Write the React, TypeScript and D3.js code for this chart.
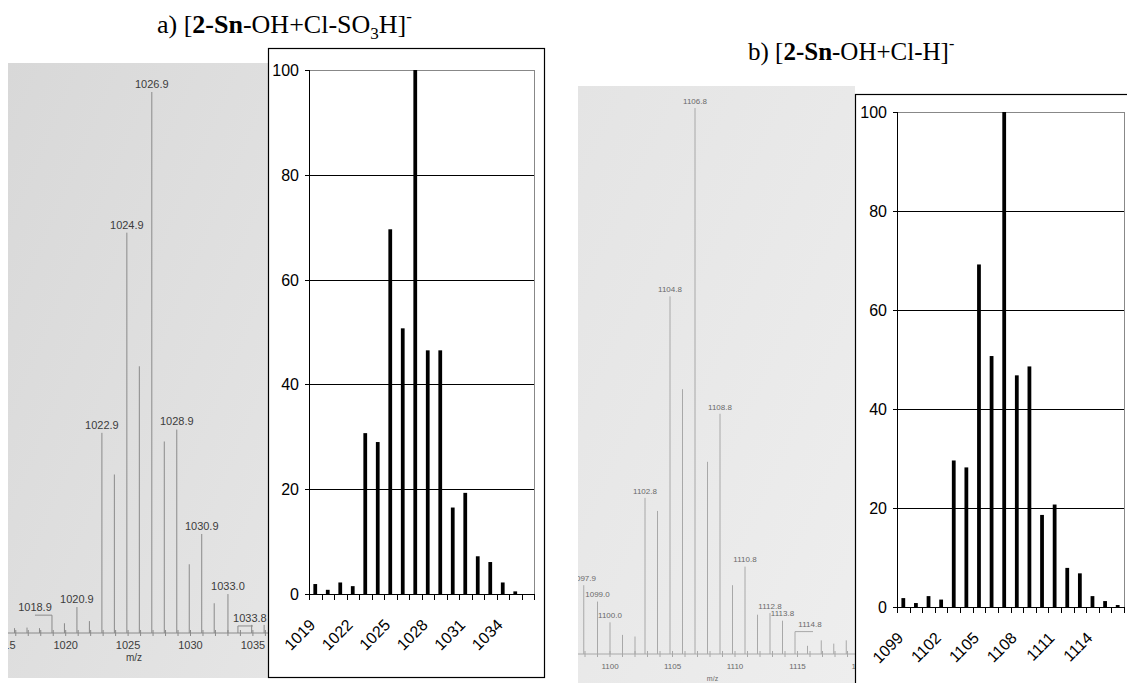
import React from 'react';
import * as d3 from 'd3';

// simulated isotope pattern a) [2-Sn-OH+Cl-SO3H]-
const barMzA = ['1019', '1020', '1021', '1022', '1023', '1024', '1025', '1026', '1027', '1028', '1029', '1030', '1031', '1032', '1033', '1034', '1035', '1036'];
const barValA = [1.9, 0.8, 2.2, 1.5, 30.7, 29, 69.6, 50.7, 100, 46.5, 46.5, 16.5, 19.3, 7.2, 6.1, 2.2, 0.5, 0];
const barTickA = ['1019', '1022', '1025', '1028', '1031', '1034'];

// simulated isotope pattern b) [2-Sn-OH+Cl-H]-
const barMzB = ['1099', '1100', '1101', '1102', '1103', '1104', '1105', '1106', '1107', '1108', '1109', '1110', '1111', '1112', '1113', '1114', '1115', '1116'];
const barValB = [1.8, 0.8, 2.2, 1.5, 29.6, 28.2, 69.2, 50.7, 100, 46.8, 48.6, 18.6, 20.7, 7.9, 6.8, 2.2, 1.2, 0.4];
const barTickB = ['1099', '1102', '1105', '1108', '1111', '1114'];

const yTicks = [0, 20, 40, 60, 80, 100];

// measured spectra (photographs)
const specMzA = [1015.9, 1016.9, 1017.9, 1018.9, 1019.9, 1020.9, 1021.9, 1022.9, 1023.9, 1024.9, 1025.9, 1026.9, 1027.9, 1028.9, 1029.9, 1030.9, 1031.9, 1033.0, 1033.8, 1034.9, 1035.9];
const specIntA = [0.9, 1, 0.9, 3.3, 1.8, 4.8, 2.2, 37, 29.3, 74, 49.3, 100, 35.4, 37.6, 12.7, 18.3, 5.5, 7.2, 1.3, 1.5, 1.5];
const specLabelA = ['1018.9', '1020.9', '1022.9', '1024.9', '1026.9', '1028.9', '1030.9', '1033.0', '1033.8'];
const specAxisA = [1015, 1020, 1025, 1030, 1035];

const specMzB = [1097.9, 1099.0, 1100.0, 1101.0, 1102.0, 1102.8, 1103.8, 1104.8, 1105.8, 1106.8, 1107.8, 1108.8, 1109.8, 1110.8, 1111.8, 1112.8, 1113.8, 1114.8, 1115.8, 1116.9, 1117.9, 1118.9];
const specIntB = [12.6, 9.6, 5.8, 3.5, 3.2, 28.6, 26.2, 65.5, 48.5, 100, 35.2, 44, 12.6, 16, 7.2, 7.5, 6.1, 4.1, 1.5, 2.5, 1.9, 2.5];
const specLabelB = ['1097.9', '1099.0', '1100.0', '1102.8', '1104.8', '1106.8', '1108.8', '1110.8', '1112.8', '1113.8', '1114.8'];
const specAxisB = [1100, 1105, 1110, 1115, 1120];

// labels drawn beside the peak with a small leader
const leaders = { '1018.9': [-17, 0], '1033.8': [0, 15], '1114.8': [0, 18] };

const sans = 'Liberation Sans, Arial, sans-serif';
const serif = 'Liberation Serif, Times New Roman, serif';

function Spectrum({ id, box, xDomain, xRange, yRange, mz, inten, labels, axis, lineColor, textColor, fontSize, labelGap }) {
  const x = d3.scaleLinear().domain(xDomain).range(xRange);
  const y = d3.scaleLinear().domain([0, 100]).range(yRange);
  const base = y(0);
  const minor = d3.range(Math.ceil(x.invert(box.x)), Math.floor(x.invert(box.x + box.w)) + 1);
  return (
    <g>
      <defs>
        <linearGradient id={id + 'bg'} x1="0" x2="1" y1="0" y2="1">
          <stop offset="0%" stopColor={id === 'a' ? '#d8d8d8' : '#e4e4e4'} />
          <stop offset="100%" stopColor={id === 'a' ? '#e5e5e5' : '#eeeeee'} />
        </linearGradient>
        <clipPath id={id + 'clip'}>
          <rect x={box.x} y={box.y} width={box.w} height={box.h} />
        </clipPath>
      </defs>
      <rect x={box.x} y={box.y} width={box.w} height={box.h} fill={`url(#${id}bg)`} />
      <g clipPath={`url(#${id}clip)`}>
        <line x1={box.x} x2={box.x + box.w} y1={base} y2={base} stroke={lineColor} />
        {minor.map((m) => (
          <line key={m} x1={x(m)} x2={x(m)} y1={base - 3} y2={base + 3} stroke={lineColor} />
        ))}
        {mz.map((m, i) => (
          <line key={m} x1={x(m)} x2={x(m)} y1={base} y2={y(inten[i])} stroke={lineColor} strokeWidth={1} />
        ))}
        {labels.map((lab) => {
          const i = mz.findIndex((m) => m.toFixed(1) === lab);
          const px = x(mz[i]);
          const py = y(inten[i]);
          const ld = leaders[lab];
          if (ld) {
            const lx = ld[0] < 0 ? px + ld[0] : px + ld[1] - 3;
            return (
              <g key={lab}>
                <line x1={px + ld[0]} x2={px + ld[1]} y1={py} y2={py} stroke={lineColor} />
                <text x={lx} y={py - labelGap + fontSize * 0.35} textAnchor="middle" fontSize={fontSize} fill={textColor} fontFamily={sans}>{lab}</text>
              </g>
            );
          }
          return (
            <text key={lab} x={px} y={py - labelGap + fontSize * 0.35} textAnchor="middle" fontSize={fontSize} fill={textColor} fontFamily={sans}>{lab}</text>
          );
        })}
        {axis.map((t) => (
          <text key={t} x={x(t)} y={base + 12 + fontSize * 0.35} textAnchor="middle" fontSize={fontSize} fill={textColor} fontFamily={sans}>{t}</text>
        ))}
        <text x={box.x + box.w / 2 - 4} y={base + 25 + fontSize * 0.3} textAnchor="middle" fontSize={fontSize - 1} fill={textColor} fontFamily={sans}>m/z</text>
      </g>
    </g>
  );
}

function BarChart({ box, cats, vals, ticks, xRange, yRange }) {
  const x = d3.scaleBand().domain(cats).range(xRange);
  const y = d3.scaleLinear().domain([0, 100]).range(yRange);
  const bw = Math.max(3, x.bandwidth() * 0.3);
  const [x0, x1] = xRange;
  return (
    <g>
      <rect x={box.x + 0.5} y={box.y + 0.5} width={box.w} height={box.h} fill="#fff" stroke="#000" strokeWidth={1.2} />
      {yTicks.filter((t) => t > 0).map((t) => (
        <line key={t} x1={x0} x2={x1} y1={Math.round(y(t)) + 0.5} y2={Math.round(y(t)) + 0.5} stroke={t === 100 ? '#888' : '#000'} />
      ))}
      <line x1={x1 + 0.5} x2={x1 + 0.5} y1={y(100)} y2={y(0)} stroke="#888" />
      {cats.map((c, i) => (
        <rect key={c} x={x(c) + (x.bandwidth() - bw) / 2} y={y(vals[i])} width={bw} height={y(0) - y(vals[i])} fill="#000" />
      ))}
      <line x1={x0 + 0.5} x2={x0 + 0.5} y1={y(100)} y2={y(0)} stroke="#000" />
      <line x1={x0} x2={x1} y1={Math.round(y(0)) + 0.5} y2={Math.round(y(0)) + 0.5} stroke="#000" />
      {yTicks.map((t) => (
        <g key={t}>
          <line x1={x0 - 4} x2={x0} y1={Math.round(y(t)) + 0.5} y2={Math.round(y(t)) + 0.5} stroke="#000" />
          <text x={x0 - 10} y={y(t) + 6} textAnchor="end" fontSize={16} fontFamily={sans} fill="#000">{t}</text>
        </g>
      ))}
      {cats.concat(['end']).map((c, i) => {
        const tx = Math.round(x0 + i * x.step()) + 0.5;
        return <line key={'t' + i} x1={tx} x2={tx} y1={y(0)} y2={y(0) + 6} stroke="#000" />;
      })}
      {ticks.map((t) => {
        const tx = x(t) + x.bandwidth() / 2 + 1;
        const ty = y(0) + 32;
        return (
          <text key={t} transform={`translate(${tx},${ty}) rotate(-45)`} textAnchor="end" fontSize={16} fontFamily={sans} fill="#000">{t}</text>
        );
      })}
    </g>
  );
}

export default function App() {
  return (
    <div style={{ position: 'absolute', left: 0, top: 0 }}>
      <svg width={1127} height={683} style={{ display: 'block', background: '#fff' }}>
        <Spectrum id="a" box={{ x: 8, y: 63, w: 260, h: 615 }} xDomain={[1020, 1035]} xRange={[65.7, 252.9]} yRange={[633, 92]}
          mz={specMzA} inten={specIntA} labels={specLabelA} axis={specAxisA} lineColor="#8a8a8a" textColor="#3c3c3c" fontSize={11} labelGap={8} />
        <BarChart box={{ x: 268, y: 48, w: 276, h: 629 }} cats={barMzA} vals={barValA} ticks={barTickA} xRange={[309, 534]} yRange={[594, 70]} />

        <Spectrum id="b" box={{ x: 578, y: 86, w: 277, h: 597 }} xDomain={[1100, 1115]} xRange={[610, 797.5]} yRange={[654, 108]}
          mz={specMzB} inten={specIntB} labels={specLabelB} axis={specAxisB} lineColor="#a8a8a8" textColor="#6a6a6a" fontSize={8} labelGap={7} />
        <BarChart box={{ x: 855, y: 94, w: 300, h: 600 }} cats={barMzB} vals={barValB} ticks={barTickB} xRange={[897, 1124]} yRange={[607, 112]} />

        <text x={157} y={33} fontSize={26} fontFamily={serif} fill="#000">
          a) [<tspan fontWeight="bold">2-Sn</tspan>-OH+Cl-SO<tspan dy={6} fontSize={17}>3</tspan><tspan dy={-6}>H]</tspan><tspan dy={-11} fontSize={17}>-</tspan>
        </text>
        <text x={748} y={60} fontSize={25} fontFamily={serif} fill="#000">
          b) [<tspan fontWeight="bold">2-Sn</tspan>-OH+Cl-H]<tspan dy={-11} fontSize={16}>-</tspan>
        </text>
      </svg>
    </div>
  );
}
